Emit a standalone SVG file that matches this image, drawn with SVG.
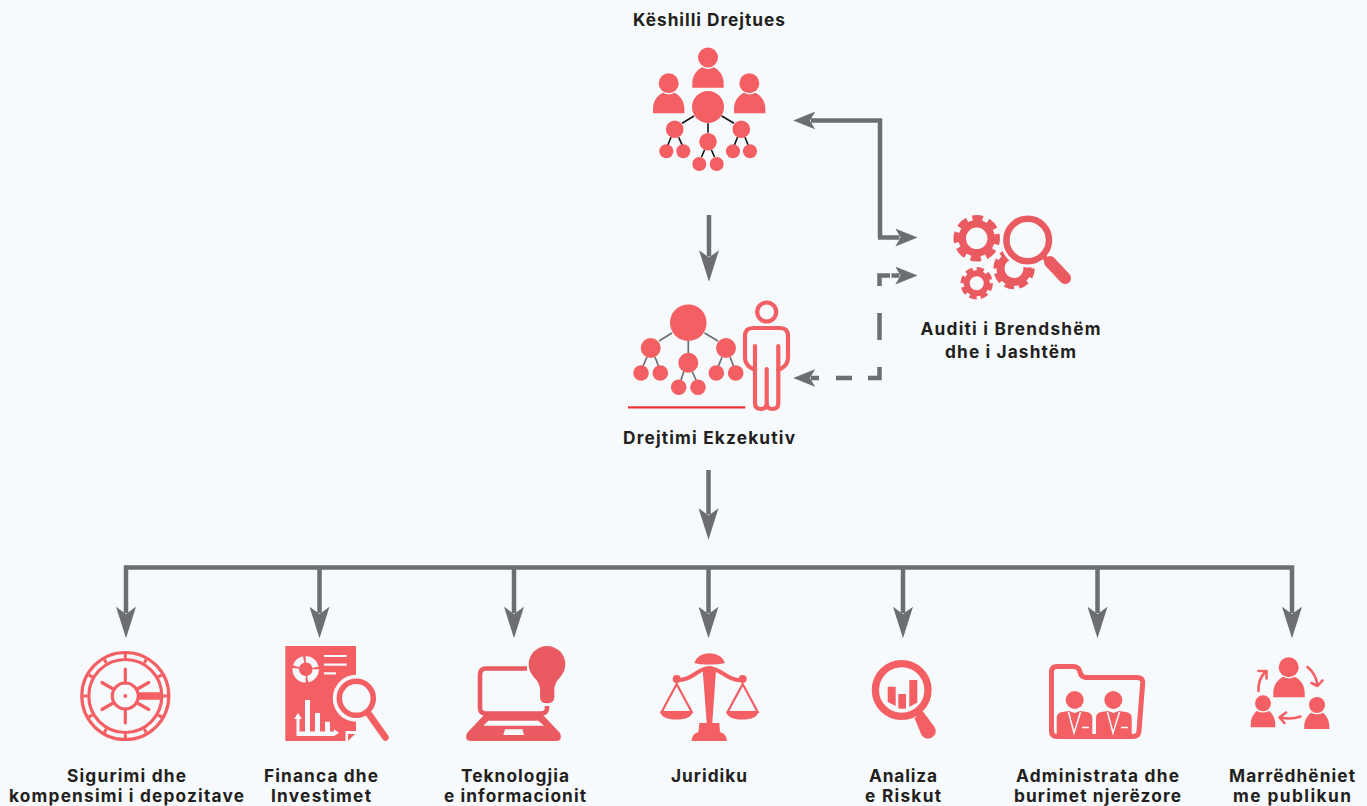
<svg xmlns="http://www.w3.org/2000/svg" xmlns:xlink="http://www.w3.org/1999/xlink" width="1367" height="806" viewBox="0 0 1367 806">
<style>
text{font-family:"Inter","Liberation Sans",sans-serif;font-weight:700;font-size:17.3px;fill:#231f20;text-anchor:middle}
.r{fill:#f35f62}.d{fill:#e95b60}.bg{fill:#f6fafd}
.rs{fill:none;stroke:#f35f62}.ds{fill:none;stroke:#e95b60}.bs{fill:none;stroke:#f6fafd}
.c{fill:none;stroke:#6d6e71;stroke-width:4.5}
</style>
<defs>
<marker id="big" markerUnits="userSpaceOnUse" markerWidth="32" markerHeight="20" viewBox="0 0 30 19" refX="6" refY="9.5" orient="auto"><path d="M0,0L30,9.5L0,19L7,9.5Z" fill="#6d6e71"/></marker>
<marker id="small" markerUnits="userSpaceOnUse" markerWidth="22" markerHeight="18" viewBox="0 0 21 17" refX="4" refY="8.5" orient="auto"><path d="M0,0L21,8.5L0,17L5,8.5Z" fill="#6d6e71"/></marker>
<path id="body" d="M0,21V17C0,8 5,3 10,0.5Q15.7,4 21.4,0.5C26.4,3 31.4,8 31.4,17V21Z"/>
</defs>
<rect width="1367" height="806" class="bg"/>
<g id="connectors">
<path class="c" d="M880,238V120.500H811" marker-end="url(#small)"/>
<path class="c" d="M878,237.500H899.500" marker-end="url(#small)"/>
<path class="c" d="M709,215V256.500" marker-end="url(#big)"/>
<path class="c" d="M879.500,286V275.500H890M891.500,275.500H899.500" marker-end="url(#small)"/>
<path class="c" d="M879.500,313V340"/>
<path class="c" d="M879.500,367V378H868M852,378H836M819,378H811" marker-end="url(#small)"/>
<path class="c" d="M708.500,470V514.500" marker-end="url(#big)"/>
<path class="c" d="M126,567.500H1292V613" marker-end="url(#big)"/>
<path class="c" d="M126,565.300V613" marker-end="url(#big)"/>
<path class="c" d="M319.500,567.500V613" marker-end="url(#big)"/>
<path class="c" d="M514,567.500V613" marker-end="url(#big)"/>
<path class="c" d="M708.500,567.500V613" marker-end="url(#big)"/>
<path class="c" d="M903,567.500V613" marker-end="url(#big)"/>
<path class="c" d="M1097.500,567.500V613" marker-end="url(#big)"/>
</g>
<g id="node-board">
<text x="709" y="26" textLength="152">Këshilli Drejtues</text>
<g class="r">
<circle cx="708" cy="57.500" r="10"/><use href="#body" x="692.300" y="66.700"/>
<circle cx="668.700" cy="83.300" r="10"/><use href="#body" x="653" y="92.300"/>
<circle cx="749.300" cy="83.300" r="10"/><use href="#body" x="734" y="92.300"/>
<circle cx="708" cy="107" r="16"/>
<circle cx="674.700" cy="129.300" r="8.800"/><circle cx="708" cy="141.700" r="8.800"/><circle cx="741.300" cy="129.300" r="8.800"/>
<circle cx="666.300" cy="151.300" r="7"/><circle cx="683.300" cy="151.300" r="7"/><circle cx="699.300" cy="164" r="7"/><circle cx="716.700" cy="164" r="7"/><circle cx="733" cy="151.300" r="7"/><circle cx="750" cy="151.300" r="7"/>
</g>
<path fill="none" stroke="#111" stroke-width="1.600" d="M694,116L682,123.300M708,123.300V132.700M721.700,116L734,123.300M671,137.300L668,144.700M678.700,137.300L682,144.700M704.500,150L701.500,157M711.500,150L714.500,157M737.500,137.300L734.500,144.700M745,137.300L748,144.700"/>
</g>
<g id="node-exec">
<text x="709" y="444" textLength="172">Drejtimi Ekzekutiv</text>
<path fill="none" stroke="#6d6e71" stroke-width="1.700" d="M672,333L659,341M688.300,340V353M704.500,333L718,341M647,357L643,366M655,357L658.500,366M684,371L681,380M692,371L696,380M722,357L718.500,366M730,357L733.500,366"/>
<g class="r">
<circle cx="688.300" cy="322.700" r="18.300"/>
<circle cx="650.700" cy="348" r="10"/><circle cx="688.300" cy="362.700" r="10"/><circle cx="726" cy="348" r="10"/>
<circle cx="641" cy="373" r="7.800"/><circle cx="660.300" cy="373" r="7.800"/><circle cx="678.700" cy="387.300" r="7.800"/><circle cx="698" cy="387.300" r="7.800"/><circle cx="716.300" cy="373" r="7.800"/><circle cx="735.700" cy="373" r="7.800"/>
</g>
<path fill="none" stroke="#ee3338" stroke-width="2.300" d="M628,407.300H745.300"/>
<g class="rs" stroke-width="4.200" stroke-linecap="round">
<circle cx="766.700" cy="312" r="9.500"/>
<path d="M755,346V403Q755,409 761,409Q766.700,409 766.700,403V369M766.700,403Q766.700,409 772.400,409Q778.300,409 778.300,403V346"/>
<path d="M755,370Q745,366 745,358V336Q745,328 753,328H780Q788,328 788,336V358Q788,366 778.300,370"/>
</g>
</g>
<g id="node-audit">
<text x="1010.500" y="335" textLength="180">Auditi i Brendshëm</text>
<text x="1010.500" y="357.500" textLength="131">dhe i Jashtëm</text>
<g class="ds">
<circle cx="976.700" cy="238.300" r="14.500" stroke-width="7.500"/>
<circle cx="976.700" cy="238.300" r="20" stroke-width="6.500" pathLength="80" stroke-dasharray="6.500 3.500" transform="rotate(-12 976.7 238.3)"/>
<circle cx="976.700" cy="283.300" r="10" stroke-width="6"/>
<circle cx="976.700" cy="283.300" r="14" stroke-width="4.500" pathLength="80" stroke-dasharray="6.500 3.500"/>
<circle cx="1014" cy="268.500" r="13.500" stroke-width="8"/>
<circle cx="1014" cy="268.500" r="18.500" stroke-width="4.500" pathLength="80" stroke-dasharray="6.500 3.500"/>
</g>
<circle class="bg" cx="1027.700" cy="240" r="27.500"/>
<path class="bs" stroke-width="15" stroke-linecap="round" d="M1045,258L1065,278"/>
<circle class="ds" cx="1027.700" cy="240" r="21.300" stroke-width="6.500"/>
<path class="ds" stroke-width="5" d="M1041,254L1047,260"/>
<path class="ds" stroke-width="12" stroke-linecap="round" d="M1050,262L1065,278"/>
</g>
<g id="node-sigurimi">
<text x="126.500" y="782" textLength="119">Sigurimi dhe</text>
<text x="126.500" y="802" textLength="235">kompensimi i depozitave</text>
<g class="rs">
<circle cx="125.300" cy="696" r="43.500" stroke-width="3.200"/>
<circle cx="125.300" cy="696" r="36.500" stroke-width="3.200"/>
<circle cx="125.300" cy="696" r="40" stroke-width="4" pathLength="120" stroke-dasharray="1.500 8.500" stroke-dashoffset="0.750"/>
<circle cx="125.300" cy="696" r="13" stroke-width="3.200"/>
<path stroke-width="3.200" stroke-linecap="round" d="M125.300,669V683M125.300,709V723M101.900,682.500L114,689.500M148.700,682.500L136.600,689.500M101.900,709.500L114,702.500M148.700,709.500L136.600,702.500"/>
<path stroke-width="7.500" d="M138,696H162"/>
</g>
<circle class="r" cx="125.300" cy="696" r="2"/>
</g>
<g id="node-finance">
<text x="321" y="782" textLength="114">Financa dhe</text>
<text x="321" y="802" textLength="100">Investimet</text>
<path class="r" d="M285.300,646H356V731H345.500V741H285.300Z"/>
<path class="r" d="M348,734H355L348,741Z"/>
<circle class="bg" cx="356.300" cy="698.300" r="23.500"/>
<circle class="bs" cx="305.700" cy="669.300" r="10" stroke-width="6.500" pathLength="60" stroke-dasharray="13 2 16 2 10 2 13 2"/>
<path class="bs" stroke-width="2.200" d="M324,656H346.700M324,664.700H346.700M324,673.300H336"/>
<path class="bg" d="M305,700H310V731.700H305ZM315,713H320V731.700H315ZM325,721.700H330V731.700H325ZM296.500,734V719H294L298,713L302,719H299.500V731.500H334V729L339,733L334,736H296.500Z"/>
<circle class="rs" cx="356.300" cy="698.300" r="17" stroke-width="5.500"/>
<path class="rs" stroke-width="6.500" stroke-linecap="round" d="M368.500,713.500L385.500,737.500"/>
</g>
<g id="node-tech">
<text x="515" y="782" textLength="108">Teknologjia</text>
<text x="515" y="802" textLength="142">e informacionit</text>
<path class="ds" stroke-width="4.600" d="M527,668.500H486Q480,668.500 480,675V708Q480,713.500 486,713.500H541Q547,713.500 547,708V706"/>
<path class="d" d="M484,715H543L560,733Q563,741 556,741H471Q464,741 467,733Z"/>
<path class="bg" d="M483.300,725.700L488.300,720.700H538.300L544,725.700ZM505,729.300H522.500L524,735H503.300Z"/>
<circle class="d" cx="547" cy="664.300" r="18.300"/>
<path class="d" d="M533,676Q540,683 540,690V697Q540,703.300 547,703.300Q554.300,703.300 554.300,697V690Q554.300,683 561,676Z"/>
</g>
<g id="node-legal">
<text x="709" y="782" textLength="76">Juridiku</text>
<path class="r" d="M694.300,663Q697,654 709.500,653.300Q722,654 725,663Q716,665 709.500,664.500Q702,665 694.300,663Z"/>
<path class="r" d="M702.700,670H716L712.300,723H706.700Z"/>
<path class="r" d="M699.300,723H719.300L720,732Q727,734 726.700,741H691.700Q691.500,734 698.500,732Z"/>
<path class="rs" stroke-width="4.200" d="M676.700,680C692,681 696,669 709.300,668C722,669 727,681 742.700,680"/>
<circle class="r" cx="676.700" cy="679" r="4"/><circle class="r" cx="742.700" cy="679" r="4"/>
<path class="rs" stroke-width="2.200" d="M676.700,684L661.700,712H691.700ZM742.700,684L727.700,712H757.700Z"/>
<path class="r" d="M660,711.700H692.700Q691,719.500 676.300,719.500Q662,719.500 660,711.700ZM726,711.700H758.300Q757,719.500 742,719.500Q728,719.500 726,711.700Z"/>
</g>
<g id="node-risk">
<text x="903" y="782" textLength="68">Analiza</text>
<text x="903" y="802" textLength="76">e Riskut</text>
<circle class="rs" cx="901.700" cy="690" r="26.300" stroke-width="7.300"/>
<path class="r" d="M887.700,686.700H895.700V706L887.700,702ZM898.300,694H906V708.800Q901,709 898.300,708.300ZM909.300,680H917.300V702.500L909.300,707Z"/>
<path class="rs" stroke-width="6" d="M919,713L921,717"/>
<path class="r" d="M914.500,718L923,711.500L934.500,727Q938,733 932,737.500Q925,741 921,734Z"/>
</g>
<g id="node-hr">
<text x="1097.500" y="782" textLength="163">Administrata dhe</text>
<text x="1097.500" y="802" textLength="167">burimet njerëzore</text>
<path class="rs" stroke-width="5" d="M1057,736.500Q1051.500,736.500 1051.500,731V672Q1051.500,666.500 1057,666.500H1073Q1079,666.500 1080,672Q1081,677 1086,677.500H1137Q1143,677.500 1142.700,683L1139,731Q1138.500,736.500 1133,736.500Z"/>
<circle class="r" cx="1074.700" cy="700" r="9"/><circle class="r" cx="1113.300" cy="700" r="9"/>
<path class="r" d="M1056.700,735V718Q1056.700,713 1062,712L1069,711L1074.700,713L1080,711L1087,712Q1092.300,713 1092.300,718V735ZM1096,735V718Q1096,713 1101,712L1108,711L1113.500,713L1119,711L1126,712Q1131.700,713 1131.700,718V735Z"/>
<path class="bs" stroke-width="1.500" d="M1068.500,712L1074,733L1080.500,712M1107.500,712L1113,733L1119.500,712M1082,727.500H1089M1121,727.500H1128"/>
<path class="r" d="M1074.700,713L1077,716.500L1075,726L1074.700,728L1072.500,716.500ZM1113.500,713L1116,716.500L1114,726L1113.500,728L1111,716.500Z"/>
</g>
<g id="node-pr">
<text x="1292" y="782" textLength="126">Marrëdhëniet</text>
<text x="1292" y="802" textLength="118">me publikun</text>
<circle class="r" cx="1288.700" cy="667.300" r="10"/><use href="#body" class="r" x="1273.300" y="676.200"/>
<circle class="r" cx="1263" cy="703.300" r="8"/><path class="r" d="M1250.700,727.300V724C1250.700,718 1254,713 1257,711Q1263,714 1269,711C1272,713 1275.300,718 1275.300,724V727.300Z"/>
<circle class="r" cx="1317" cy="705" r="8"/><path class="r" d="M1304.300,729V726C1304.300,720 1308,715 1311,712.700Q1317,716 1323,712.700C1326,715 1329.300,720 1329.300,726V729Z"/>
<g class="rs" stroke-width="2.600" stroke-linecap="round" stroke-linejoin="round">
<path d="M1258.500,691Q1258,679 1265.500,671.500M1258.500,671H1266.500L1266.500,678.500"/>
<path d="M1307.500,667Q1316,674 1317.500,685M1311.500,683L1317.500,686L1322.500,680.500"/>
<path d="M1300.500,716.500Q1291,720 1280.500,717.500M1286,712.500L1279.500,717.500L1284.500,723"/>
</g>
</g>
</svg>
